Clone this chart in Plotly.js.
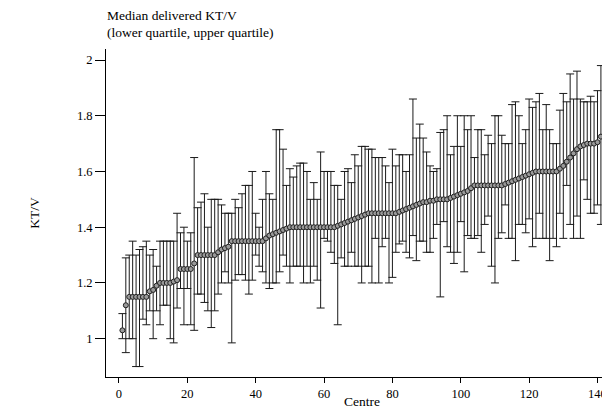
<!DOCTYPE html>
<html>
<head>
<meta charset="utf-8">
<script src="https://cdn.plot.ly/plotly-3.0.1.min.js"></script>
<style>
html, body { margin:0; padding:0; overflow:hidden; background:#fff; width:602px; height:409px; }
#chart { width:620px; height:409px; }
</style>
</head>
<body>
<div id="chart"></div>
<script>
// Median delivered KT/V per centre (sorted), with lower and upper quartiles
const centre = [];
for (let i = 1; i <= 141; i++) centre.push(i);

const medianKtv = [
  1.03, 1.12, 1.15, 1.15, 1.15, 1.15, 1.15, 1.15, 1.17, 1.175,
  1.19, 1.2, 1.2, 1.2, 1.2, 1.205, 1.21, 1.25, 1.25, 1.25,
  1.25, 1.27, 1.3, 1.3, 1.3, 1.3, 1.3, 1.3, 1.31, 1.32,
  1.325, 1.33, 1.35, 1.35, 1.35, 1.35, 1.35, 1.35, 1.35, 1.35,
  1.35, 1.35, 1.36, 1.37, 1.375, 1.38, 1.385, 1.39, 1.395, 1.4,
  1.4, 1.4, 1.4, 1.4, 1.4, 1.4, 1.4, 1.4, 1.4, 1.4,
  1.4, 1.4, 1.4, 1.405, 1.41, 1.415, 1.42, 1.425, 1.43, 1.435,
  1.44, 1.445, 1.45, 1.45, 1.45, 1.45, 1.45, 1.45, 1.45, 1.45,
  1.45, 1.455, 1.46, 1.465, 1.47, 1.475, 1.48, 1.485, 1.49, 1.49,
  1.495, 1.495, 1.5, 1.5, 1.5, 1.5, 1.505, 1.51, 1.515, 1.52,
  1.525, 1.53, 1.54, 1.55, 1.55, 1.55, 1.55, 1.55, 1.55, 1.55,
  1.55, 1.55, 1.555, 1.56, 1.565, 1.57, 1.575, 1.58, 1.585, 1.59,
  1.595, 1.6, 1.6, 1.6, 1.6, 1.6, 1.6, 1.6, 1.61, 1.62,
  1.635, 1.65, 1.665, 1.68, 1.69, 1.695, 1.7, 1.7, 1.7, 1.705,
  1.725
];

const upperQ = [
  1.09, 1.29, 1.30, 1.35, 1.30, 1.32, 1.33, 1.35, 1.30, 1.32,
  1.26, 1.35, 1.35, 1.35, 1.35, 1.35, 1.45, 1.38, 1.40, 1.35,
  1.38, 1.65, 1.47, 1.49, 1.52, 1.40, 1.50, 1.50, 1.50, 1.48,
  1.45, 1.45, 1.45, 1.50, 1.47, 1.52, 1.55, 1.55, 1.60, 1.45,
  1.40, 1.50, 1.60, 1.52, 1.50, 1.75, 1.75, 1.68, 1.55, 1.61,
  1.58, 1.62, 1.63, 1.63, 1.60, 1.50, 1.56, 1.50, 1.67, 1.60,
  1.60, 1.60, 1.55, 1.55, 1.50, 1.60, 1.61, 1.56, 1.66, 1.62,
  1.69, 1.69, 1.68, 1.68, 1.65, 1.65, 1.65, 1.62, 1.56, 1.68,
  1.62, 1.66, 1.66, 1.60, 1.66, 1.86, 1.72, 1.77, 1.72, 1.67,
  1.62, 1.60, 1.61, 1.74, 1.75, 1.80, 1.66, 1.69, 1.80, 1.69,
  1.80, 1.75, 1.80, 1.65, 1.75, 1.75, 1.66, 1.73, 1.70, 1.80,
  1.80, 1.73, 1.70, 1.70, 1.84, 1.85, 1.80, 1.70, 1.75, 1.86,
  1.83, 1.85, 1.88, 1.75, 1.84, 1.75, 1.70, 1.70, 1.82, 1.88,
  1.85, 1.95, 1.86, 1.96, 1.86, 1.85, 1.85, 1.87, 1.85, 1.89,
  1.98
];

const lowerQ = [
  1.00, 0.95, 1.00, 1.00, 0.90, 0.90, 1.07, 1.05, 1.10, 1.00,
  1.10, 1.05, 1.12, 1.12, 1.00, 0.985, 1.11, 1.18, 1.05, 1.18,
  1.05, 1.03, 1.16, 1.16, 1.13, 1.10, 1.04, 1.10, 1.16, 1.20,
  1.24, 1.20, 0.985, 1.21, 1.23, 1.23, 1.21, 1.16, 1.21, 1.30,
  1.26, 1.24, 1.20, 1.18, 1.20, 1.20, 1.24, 1.30, 1.26, 1.20,
  1.26, 1.26, 1.26, 1.20, 1.26, 1.20, 1.26, 1.21, 1.11, 1.36,
  1.35, 1.31, 1.27, 1.05, 1.29, 1.26, 1.26, 1.31, 1.26, 1.26,
  1.20, 1.26, 1.26, 1.20, 1.36, 1.20, 1.33, 1.36, 1.20, 1.22,
  1.31, 1.34, 1.35, 1.31, 1.29, 1.37, 1.28, 1.35, 1.35, 1.31,
  1.31, 1.36, 1.41, 1.15, 1.42, 1.33, 1.31, 1.27, 1.31, 1.42,
  1.24, 1.37, 1.36, 1.36, 1.37, 1.31, 1.41, 1.44, 1.26, 1.20,
  1.36, 1.38, 1.48, 1.36, 1.36, 1.28, 1.41, 1.41, 1.38, 1.43,
  1.33, 1.36, 1.45, 1.36, 1.36, 1.28, 1.36, 1.33, 1.45, 1.36,
  1.55, 1.41, 1.36, 1.44, 1.36, 1.57, 1.50, 1.45, 1.45, 1.48,
  1.41
];

const xTickVals = [0, 20, 40, 60, 80, 100, 120, 140];
const yTickVals = [1, 1.2, 1.4, 1.6, 1.8, 2];
const yTickText = ['1', '1.2', '1.4', '1.6', '1.8', '2'];

const errPlus = upperQ.map((u, i) => +(u - medianKtv[i]).toFixed(4));
const errMinus = lowerQ.map((l, i) => +(medianKtv[i] - l).toFixed(4));

const serif = 'Liberation Serif, Times New Roman, serif';

const trace = {
  type: 'scatter',
  mode: 'markers',
  x: centre,
  y: medianKtv,
  marker: { symbol: 'circle', size: 5, color: '#9a9a9a', line: { color: '#222', width: 1 } },
  error_y: {
    type: 'data', symmetric: false,
    array: errPlus, arrayminus: errMinus,
    color: '#1a1a1a', thickness: 1, width: 4
  },
  hoverinfo: 'x+y',
  showlegend: false
};

const layout = {
  width: 620, height: 409,
  margin: { l: 106, r: 2, t: 49, b: 32 },
  paper_bgcolor: '#fff', plot_bgcolor: '#fff',
  font: { family: serif, color: '#000', size: 12.5 },
  title: {
    text: 'Median delivered KT/V',
    font: { family: serif, size: 13.5, color: '#000' },
    xref: 'paper', x: 0.002, xanchor: 'left',
    yref: 'container', y: 0.9731, yanchor: 'top'
  },
  annotations: [{
    text: '(lower quartile, upper quartile)',
    xref: 'paper', x: -0.0025, xanchor: 'left',
    yref: 'paper', y: 1.0515, yanchor: 'middle',
    showarrow: false,
    font: { family: serif, size: 13.5, color: '#000' }
  }],
  xaxis: {
    range: [-3.8, 146],
    tickvals: xTickVals,
    ticks: 'outside', ticklen: 5, tickwidth: 1, tickcolor: '#000',
    showline: true, linecolor: '#000', linewidth: 1,
    showgrid: false, zeroline: false,
    tickfont: { family: serif, size: 12.5, color: '#000' },
    title: { text: 'Centre', font: { family: serif, size: 13.5, color: '#000' }, standoff: 16 }
  },
  yaxis: {
    range: [0.8625, 2.0395],
    tickvals: yTickVals, ticktext: yTickText,
    ticks: 'outside', ticklen: 10, tickwidth: 1, tickcolor: '#000',
    showline: true, linecolor: '#000', linewidth: 1,
    showgrid: false, zeroline: false,
    tickfont: { family: serif, size: 12.5, color: '#000' },
    title: { text: 'KT/V', font: { family: serif, size: 13.5, color: '#000' }, standoff: 34 }
  }
};

Plotly.newPlot('chart', [trace], layout, { staticPlot: true, displayModeBar: false });
</script>
</body>
</html>
